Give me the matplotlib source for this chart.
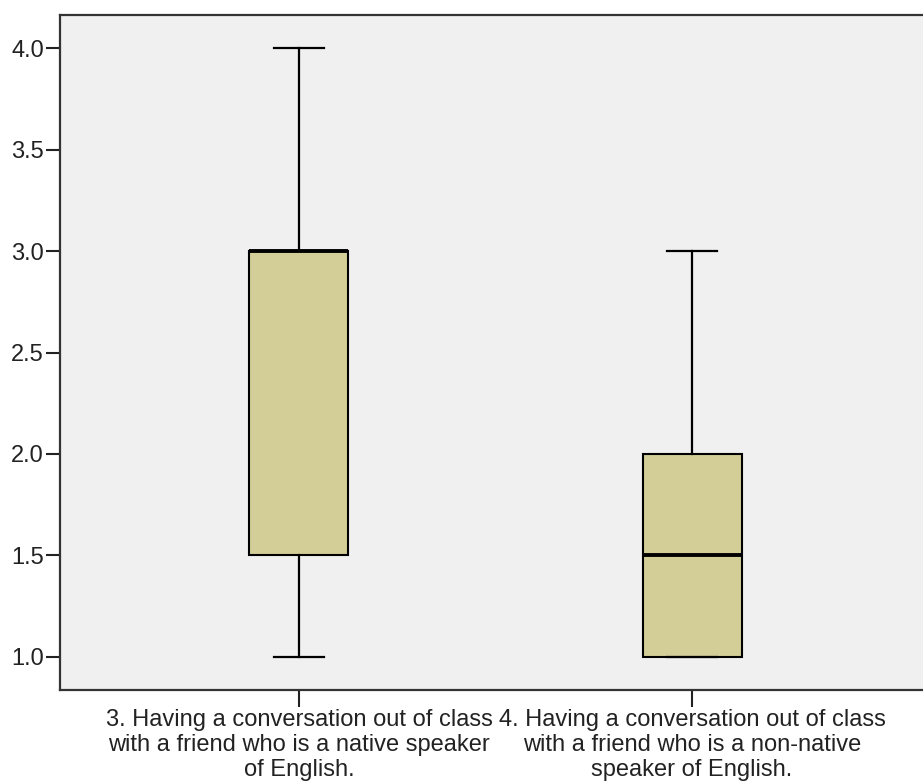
import matplotlib
matplotlib.use("Agg")
import matplotlib.pyplot as plt

labels = [
    "3. Having a conversation out of class\nwith a friend who is a native speaker\nof English.",
    "4. Having a conversation out of class\nwith a friend who is a non-native\nspeaker of English.",
]
whislo = [1.0, 1.0]
q1 = [1.5, 1.0]
med = [3.0, 1.5]
q3 = [3.0, 2.0]
whishi = [4.0, 3.0]
yticks = [1.0, 1.5, 2.0, 2.5, 3.0, 3.5, 4.0]

plt.rcParams["font.family"] = ["Liberation Sans", "DejaVu Sans"]
fig = plt.figure(figsize=(9.23, 7.82), dpi=100)
ax = fig.add_axes([60 / 923, 92 / 782, 871 / 923, 675 / 782])
ax.set_facecolor("#F0F0F0")

stats = [dict(label=l, whislo=a, q1=b, med=c, q3=d, whishi=e, fliers=[])
         for l, a, b, c, d, e in zip(labels, whislo, q1, med, q3, whishi)]
ax.bxp(stats, positions=[1, 2], widths=0.252, patch_artist=True,
       boxprops=dict(facecolor="#D3CE97", edgecolor="black", linewidth=1.5),
       medianprops=dict(color="black", linewidth=2.8),
       whiskerprops=dict(color="black", linewidth=1.6),
       capprops=dict(color="black", linewidth=1.6), capwidths=0.125,
       zorder=3)

ax.set_xlim(0.392, 2.608)
ax.set_ylim(0.837, 4.163)
ax.set_yticks(yticks)
ax.set_yticklabels([f"{v:.1f}" for v in yticks])
ax.tick_params(axis="y", length=10, width=1.5, pad=1.5, labelsize=17, colors="#222222")
ax.tick_params(axis="x", length=12, width=1.5, pad=1.5, labelsize=17, colors="#222222")
for t in ax.get_xticklabels():
    t.set_linespacing(1.17)
for s in ax.spines.values():
    s.set_linewidth(1.6)
    s.set_color("#333333")

fig.savefig("out.png", dpi=100)
